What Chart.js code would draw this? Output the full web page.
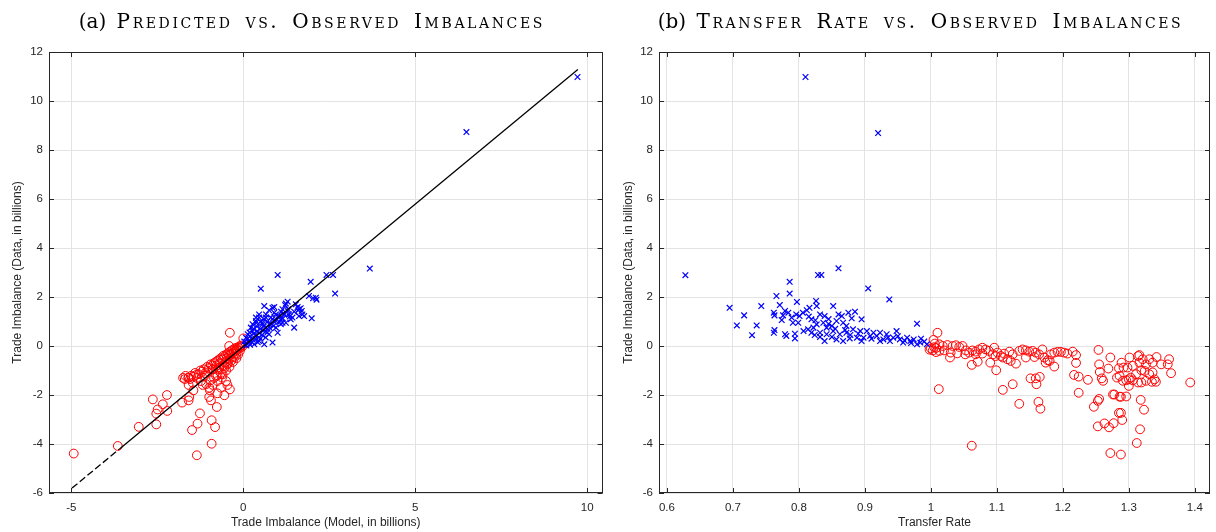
<!DOCTYPE html>
<html>
<head>
<meta charset="utf-8">
<script src="https://cdn.jsdelivr.net/npm/chart.js@4.4.1/dist/chart.umd.min.js"></script>
<style>
  html, body { margin: 0; padding: 0; background: #fff; }
  .wrap { position: absolute; top: 0; width: 608px; height: 532px; }
</style>
</head>
<body>
<div class="wrap" style="left:0"><canvas id="chartA" width="608" height="532"></canvas></div>
<div class="wrap" style="left:608px"><canvas id="chartB" width="608" height="532"></canvas></div>
<script>
// (a) model prediction vs observed, [model, data]
const positiveA = [
  [9.72, 10.98], [6.49, 8.73], [3.68, 3.16], [2.42, 2.9], [2.61, 2.9], [1.0, 2.9], [1.96, 2.62],
  [2.67, 2.14], [0.51, 2.34], [2.11, 1.97], [1.91, 2.04], [2.03, 1.95], [2.13, 1.89], [1.99, 1.13],
  [0.61, 1.63], [1.29, 1.81], [1.22, 1.67], [1.14, 1.5], [1.58, 1.59], [1.67, 1.54], [1.6, 1.46],
  [1.7, 1.43], [1.48, 1.4], [1.33, 1.29], [1.19, 1.29], [1.04, 1.22], [0.9, 1.36], [0.85, 1.56],
  [0.75, 1.46], [0.66, 1.29], [0.46, 1.16], [0.37, 1.02], [0.27, 0.89], [0.95, 1.02], [1.09, 0.89],
  [0.8, 1.16], [1.43, 1.16], [1.24, 0.95], [1.77, 1.22], [0.9, 1.59], [1.24, 1.73], [1.53, 1.7],
  [1.62, 1.5], [1.29, 1.43], [0.95, 1.29], [0.46, 1.29], [0.66, 1.16], [0.37, 0.95], [0.56, 0.89],
  [0.27, 0.61], [0.46, 0.54], [0.13, 0.48], [0.27, 0.27], [0.46, 0.2], [0.75, 0.48], [0.95, 0.75],
  [1.14, 0.95], [1.38, 1.09], [1.62, 1.22], [1.72, 1.29], [1.48, 0.75], [0.85, 0.14], [0.61, 0.07],
  [0.32, 0.07], [0.17, 0.14], [0.08, 0.34], [0.22, 0.75], [0.75, 0.89], [1.09, 1.09], [0.37, 1.16],
  [1.0, 0.54], [0.2, 0.4], [0.3, 0.5], [0.4, 0.6], [0.5, 0.7], [0.6, 0.8], [0.7, 0.7], [0.8, 0.9],
  [0.9, 1.0], [0.35, 0.3], [0.55, 0.45], [0.65, 0.6], [0.15, 0.2], [0.25, 0.15], [0.45, 0.35],
  [0.7, 1.0], [0.85, 1.1], [1.0, 1.2], [1.2, 1.3], [1.1, 1.4], [1.3, 1.5], [0.4, 0.8], [0.5, 1.0],
  [0.6, 1.1], [0.1, 0.1], [0.05, 0.05], [0.2, 0.05], [0.3, 0.7], [0.55, 0.95], [0.12, 0.3],
  [0.18, 0.55], [0.35, 0.45], [0.5, 0.3], [0.65, 0.35], [0.7, 0.55], [0.42, 0.15], [0.58, 0.62],
  [0.78, 0.72], [0.88, 0.82], [1.05, 0.98], [1.15, 1.12], [1.35, 1.2], [0.03, 0.18], [0.09, 0.02]
];
const negativeA = [
  [-4.93, -4.39], [-3.65, -4.08], [-3.04, -3.3], [-2.53, -3.2], [-2.63, -2.18], [-2.49, -2.59],
  [-2.53, -2.76], [-2.34, -2.38], [-2.22, -2.0], [-2.21, -2.65], [-1.78, -2.31], [-1.59, -2.22],
  [-1.57, -2.08], [-1.45, -1.81], [-1.26, -2.75], [-1.33, -3.17], [-1.49, -3.43], [-1.35, -4.46],
  [-0.92, -3.99], [-0.92, -3.03], [-0.82, -3.31], [-0.77, -2.49], [-0.99, -2.08], [-0.94, -2.22],
  [-0.97, -1.81], [-0.55, -2.01], [-0.39, -1.77], [-0.75, -1.93], [-1.59, -1.29], [-1.52, -1.22],
  [-1.37, -1.18], [-1.59, -1.59], [-1.47, -1.5], [-1.23, -1.43], [-1.13, -1.22], [-1.04, -1.02],
  [-0.89, -0.95], [-0.7, -0.89], [-0.55, -0.82], [-0.46, -0.75], [-1.08, -1.56], [-0.89, -1.59],
  [-0.75, -1.43], [-0.62, -1.29], [-0.5, -1.43], [-0.46, -1.59], [-0.65, -1.7], [-0.99, -1.7],
  [-1.18, -1.59], [-0.79, -1.22], [-0.6, -1.16], [-0.39, 0.54], [0.0, 0.31], [-0.41, 0.0],
  [-1.45, -1.25], [-1.4, -1.1], [-1.35, -1.3], [-1.3, -1.15], [-1.25, -1.0], [-1.2, -1.05],
  [-1.15, -0.95], [-1.1, -1.1], [-1.05, -0.85], [-1.0, -0.9], [-0.95, -0.75], [-0.9, -0.8],
  [-0.88, -0.95], [-0.85, -0.7], [-0.8, -0.65], [-0.78, -0.8], [-0.75, -0.6], [-0.7, -0.55],
  [-0.68, -0.7], [-0.65, -0.5], [-0.6, -0.55], [-0.58, -0.4], [-0.55, -0.45], [-0.5, -0.35],
  [-0.48, -0.5], [-0.45, -0.3], [-0.42, -0.4], [-0.4, -0.25], [-0.38, -0.35], [-0.35, -0.2],
  [-0.32, -0.3], [-0.3, -0.15], [-0.28, -0.25], [-0.25, -0.1], [-0.22, -0.2], [-0.2, -0.08],
  [-0.18, -0.15], [-0.15, -0.05], [-0.12, -0.1], [-0.1, 0.0], [-0.08, -0.05], [-0.05, 0.02],
  [-0.03, -0.03], [-0.6, -0.8], [-0.5, -0.65], [-0.4, -0.55], [-0.7, -0.95], [-0.3, -0.45],
  [-0.2, -0.3], [-0.1, -0.2], [-0.25, -0.45], [-0.35, -0.6], [-0.45, -0.7], [-0.55, -0.9],
  [-0.65, -1.1], [-0.75, -1.2], [-0.85, -1.3], [-0.95, -1.4], [-0.4, -0.85], [-0.3, -0.65],
  [-0.2, -0.5], [-0.15, -0.35], [-0.5, -1.0], [-1.6, -1.3], [-1.55, -1.35], [-1.7, -1.35],
  [-1.75, -1.3], [-1.68, -1.22]
];
const fitA = [[-4.98, -5.8], [-3.6, -4.2], [9.73, 11.29]];

// (b) transfer rate vs observed, [rate, data]
const positiveB = [
  [0.81, 10.98], [0.92, 8.69], [0.628, 2.89], [0.695, 1.56], [0.717, 1.25], [0.706, 0.84],
  [0.729, 0.44], [0.736, 0.84], [0.743, 1.63], [0.766, 2.04], [0.771, 1.67], [0.762, 1.36],
  [0.763, 1.25], [0.763, 0.65], [0.762, 0.54], [0.786, 2.62], [0.786, 2.14], [0.797, 1.8],
  [0.779, 1.43], [0.784, 1.36], [0.776, 1.25], [0.774, 1.06], [0.789, 1.16], [0.791, 0.95],
  [0.779, 0.48], [0.781, 0.41], [0.794, 0.5], [0.794, 0.31], [0.829, 2.9], [0.834, 2.9],
  [0.86, 3.17], [0.905, 2.35], [0.937, 1.9], [0.979, 0.91], [0.826, 1.84], [0.827, 1.63],
  [0.812, 1.46], [0.806, 1.36], [0.816, 1.56], [0.801, 1.22], [0.799, 0.95], [0.796, 1.29],
  [0.819, 1.09], [0.832, 1.29], [0.839, 1.22], [0.852, 1.63], [0.86, 1.29], [0.865, 1.22],
  [0.875, 1.36], [0.885, 1.4], [0.895, 1.09], [0.88, 1.13], [0.867, 0.95], [0.857, 1.02],
  [0.85, 0.82], [0.842, 0.75], [0.837, 0.95], [0.827, 0.88], [0.822, 0.75], [0.814, 0.68],
  [0.807, 0.61], [0.819, 0.54], [0.832, 0.54], [0.842, 0.48], [0.852, 0.61], [0.862, 0.48],
  [0.872, 0.54], [0.882, 0.68], [0.893, 0.61], [0.903, 0.61], [0.913, 0.54], [0.923, 0.54],
  [0.933, 0.48], [0.943, 0.34], [0.948, 0.61], [0.953, 0.27], [0.964, 0.34], [0.974, 0.27],
  [0.984, 0.14], [0.994, 0.07], [0.857, 0.27], [0.867, 0.2], [0.877, 0.31], [0.888, 0.34],
  [0.898, 0.34], [0.908, 0.41], [0.918, 0.41], [0.928, 0.27], [0.938, 0.2], [0.895, 0.2],
  [0.832, 0.37], [0.839, 0.2], [0.824, 0.45], [0.872, 0.82], [0.85, 0.37], [0.923, 0.2],
  [0.958, 0.14], [0.969, 0.2], [0.979, 0.07], [0.845, 0.9], [0.855, 0.7], [0.878, 0.45],
  [0.89, 0.5], [0.91, 0.3], [0.935, 0.35], [0.95, 0.4], [0.96, 0.22], [0.97, 0.12], [0.985, 0.3],
  [0.99, 0.18], [0.815, 1.2], [0.825, 1.05], [0.845, 1.1], [0.87, 0.65]
];
const negativeB = [
  [1.01, 0.54], [1.012, -1.76], [1.062, -4.07], [1.029, -0.47], [1.062, -0.77], [1.071, -0.64],
  [1.09, -0.68], [1.099, -0.99], [1.109, -1.79], [1.124, -1.56], [1.134, -2.36], [1.129, -0.72],
  [1.151, -1.32], [1.159, -1.32], [1.165, -1.26], [1.16, -1.56], [1.163, -2.28], [1.166, -2.56],
  [1.187, -0.84], [1.22, -0.69], [1.217, -1.18], [1.224, -1.25], [1.238, -1.38], [1.224, -1.91],
  [1.254, -0.16], [1.272, -0.47], [1.255, -0.75], [1.256, -1.06], [1.259, -1.32], [1.261, -1.42],
  [1.269, -0.92], [1.255, -2.16], [1.253, -2.24], [1.247, -2.48], [1.253, -3.28], [1.263, -3.16],
  [1.27, -3.32], [1.277, -3.15], [1.272, -4.37], [1.288, -4.43], [1.276, -1.98], [1.278, -1.98],
  [1.286, -2.07], [1.296, -2.06], [1.288, -2.07], [1.285, -2.73], [1.288, -2.73], [1.29, -3.02],
  [1.318, -2.2], [1.323, -2.6], [1.317, -3.4], [1.312, -3.96], [1.393, -1.49],
  [1.289, -0.68], [1.301, -0.47], [1.314, -0.41], [1.316, -0.37], [1.321, -0.54], [1.331, -0.54],
  [1.342, -0.45], [1.361, -0.54], [1.359, -0.75], [1.364, -1.11], [1.349, -0.75], [1.336, -0.68],
  [1.326, -0.75], [1.316, -0.68], [1.306, -0.81], [1.298, -0.88], [1.292, -0.88], [1.285, -0.91],
  [1.286, -1.22], [1.282, -1.29], [1.291, -1.42], [1.296, -1.4], [1.3, -1.36], [1.303, -1.29],
  [1.306, -1.4], [1.311, -1.15], [1.319, -0.99], [1.324, -1.02], [1.331, -1.15], [1.336, -1.08],
  [1.339, -1.36], [1.341, -1.46], [1.335, -1.46], [1.326, -1.42], [1.319, -1.49], [1.3, -1.63],
  [1.314, -1.49],
  [1.003, -0.18], [1.013, 0.07], [1.018, 0.0], [1.025, 0.04], [1.033, 0.0], [1.038, 0.03],
  [1.043, -0.04], [1.048, 0.0], [1.053, -0.18], [1.058, -0.27], [1.063, -0.18], [1.068, -0.23],
  [1.073, -0.14], [1.078, -0.07], [1.083, -0.14], [1.088, -0.2], [1.094, -0.34], [1.096, -0.07],
  [1.101, -0.27], [1.106, -0.41], [1.111, -0.31], [1.116, -0.54], [1.119, -0.23], [1.124, -0.34],
  [1.134, -0.2], [1.139, -0.14], [1.144, -0.18], [1.149, -0.23], [1.154, -0.2], [1.159, -0.27],
  [1.164, -0.34], [1.169, -0.14], [1.172, -0.47], [1.177, -0.58], [1.182, -0.34], [1.187, -0.27],
  [1.192, -0.24], [1.197, -0.24], [1.202, -0.27], [1.207, -0.31], [1.215, -0.23], [1.22, -0.37],
  [1.013, -0.2], [1.02, -0.18], [1.03, -0.27], [1.04, -0.3], [1.052, -0.34], [1.068, -0.34],
  [1.078, -0.31], [1.098, -0.41], [1.109, -0.47], [1.121, -0.61], [1.144, -0.47], [1.157, -0.45],
  [1.174, -0.68], [1.18, -0.61], [1.0, -0.1], [1.005, -0.05], [1.008, -0.25], [0.998, -0.15],
  [1.006, 0.1], [1.004, 0.25], [1.008, -0.08]
];

const yTicks = [-6, -4, -2, 0, 2, 4, 6, 8, 10, 12];
const xTicksA = [-5, 0, 5, 10];
const xTicksB = [0.6, 0.7, 0.8, 0.9, 1, 1.1, 1.2, 1.3, 1.4];

const ink = '#262626';
const gridCol = '#e3e3e3';
const sans = "'Liberation Sans', Arial, sans-serif";
const serif = "'DejaVu Serif', 'Liberation Serif', serif";

// MATLAB style box with inward ticks
const boxPlugin = {
  id: 'box',
  afterDraw(chart) {
    const ctx = chart.ctx, a = chart.chartArea;
    const x = chart.scales.x, y = chart.scales.y;
    ctx.save();
    ctx.strokeStyle = ink;
    ctx.lineWidth = 1;
    ctx.beginPath();
    x.ticks.forEach(t => {
      const p = Math.round(x.getPixelForValue(t.value)) + 0.5;
      ctx.moveTo(p, a.bottom); ctx.lineTo(p, a.bottom - 5);
      ctx.moveTo(p, a.top); ctx.lineTo(p, a.top + 5);
    });
    y.ticks.forEach(t => {
      const p = Math.round(y.getPixelForValue(t.value)) + 0.5;
      ctx.moveTo(a.left, p); ctx.lineTo(a.left + 5, p);
      ctx.moveTo(a.right, p); ctx.lineTo(a.right - 5, p);
    });
    ctx.stroke();
    ctx.strokeRect(Math.round(a.left) + 0.5, Math.round(a.top) + 0.5,
                   Math.round(a.width) - 1, Math.round(a.height) - 1);
    ctx.restore();
  }
};

// title: "(x)" in normal lower case, the rest in small caps
const capsTitle = {
  id: 'capsTitle',
  afterDraw(chart, args, opts) {
    const ctx = chart.ctx, a = chart.chartArea;
    const lead = opts.label + ' ';
    ctx.save();
    ctx.fillStyle = '#000';
    ctx.textBaseline = 'alphabetic';
    ctx.textAlign = 'left';
    ctx.letterSpacing = '0px';
    ctx.font = opts.size + 'px ' + serif;
    const w1 = ctx.measureText(lead).width + 4;
    ctx.letterSpacing = opts.spacing + 'px';
    ctx.wordSpacing = opts.wordSpacing + 'px';
    ctx.font = 'small-caps ' + opts.size + 'px ' + serif;
    const w2 = ctx.measureText(opts.text).width;
    const x0 = (a.left + a.right) / 2 - opts.shift - (w1 + w2) / 2;
    ctx.fillText(opts.text, x0 + w1, opts.baseline);
    ctx.letterSpacing = '0px';
    ctx.font = opts.size + 'px ' + serif;
    ctx.fillText(lead, x0, opts.baseline);
    ctx.restore();
  }
};

function pts(list) {
  return list.map(p => ({ x: p[0], y: p[1] }));
}

function makeChart(id, cfg) {
  const datasets = [];
  if (cfg.fit) {
    datasets.push({
      type: 'line', data: pts(cfg.fit), borderColor: '#000', borderWidth: 1.3,
      pointRadius: 0, fill: false, tension: 0,
      segment: { borderDash: c => c.p0DataIndex === 0 ? [7, 3] : undefined }
    });
  }
  datasets.push({
    data: pts(cfg.pos), pointStyle: 'crossRot', pointRadius: 4,
    borderColor: '#0000ff', backgroundColor: '#0000ff', pointBorderWidth: 1.2
  });
  datasets.push({
    data: pts(cfg.neg), pointStyle: 'circle', pointRadius: 4.4,
    borderColor: '#ff0000', backgroundColor: 'rgba(0,0,0,0)', pointBorderWidth: 1
  });

  return new Chart(document.getElementById(id), {
    type: 'scatter',
    data: { datasets: datasets },
    options: {
      responsive: false,
      animation: false,
      layout: { padding: { left: cfg.padLeft, right: cfg.padRight, top: 52, bottom: 0 } },
      plugins: {
        legend: { display: false },
        tooltip: { enabled: false },
        title: { display: false },
        capsTitle: { label: cfg.label, text: cfg.title, size: 20, baseline: 28, shift: 14,
                     spacing: 2.6, wordSpacing: 4 }
      },
      scales: {
        x: {
          type: 'linear', min: cfg.xMin, max: cfg.xMax,
          afterBuildTicks: s => { s.ticks = cfg.xTicks.map(v => ({ value: v })); },
          afterFit: s => { s.height = 39; },
          grid: { color: gridCol, drawTicks: false },
          border: { display: false },
          ticks: { color: ink, font: { family: sans, size: 11.5 }, padding: 8,
                   maxRotation: 0, callback: v => String(v) },
          title: { display: true, text: cfg.xTitle, color: ink,
                   font: { family: sans, size: 12 }, padding: { top: 0, bottom: 2 } }
        },
        y: {
          type: 'linear', min: -6, max: 12,
          afterBuildTicks: s => { s.ticks = yTicks.map(v => ({ value: v })); },
          afterFit: s => { s.width = cfg.yWidth; },
          grid: { color: gridCol, drawTicks: false },
          border: { display: false },
          ticks: { color: ink, font: { family: sans, size: 11.5 }, padding: 6,
                   callback: v => String(v) },
          title: { display: true, text: 'Trade Imbalance (Data, in billions)', color: ink,
                   font: { family: sans, size: 12 }, padding: { top: 0, bottom: 0 } }
        }
      }
    },
    plugins: [boxPlugin, capsTitle]
  });
}

makeChart('chartA', {
  label: '(a)', title: 'Predicted vs. Observed Imbalances',
  pos: positiveA, neg: negativeA, fit: fitA,
  xMin: -5.65, xMax: 10.45, xTicks: xTicksA,
  xTitle: 'Trade Imbalance (Model, in billions)',
  padLeft: 10, padRight: 3, yWidth: 39
});

makeChart('chartB', {
  label: '(b)', title: 'Transfer Rate vs. Observed Imbalances',
  pos: positiveB, neg: negativeB, fit: null,
  xMin: 0.588, xMax: 1.423, xTicks: xTicksB,
  xTitle: 'Transfer Rate',
  padLeft: 13, padRight: 6, yWidth: 38
});
</script>
</body>
</html>
